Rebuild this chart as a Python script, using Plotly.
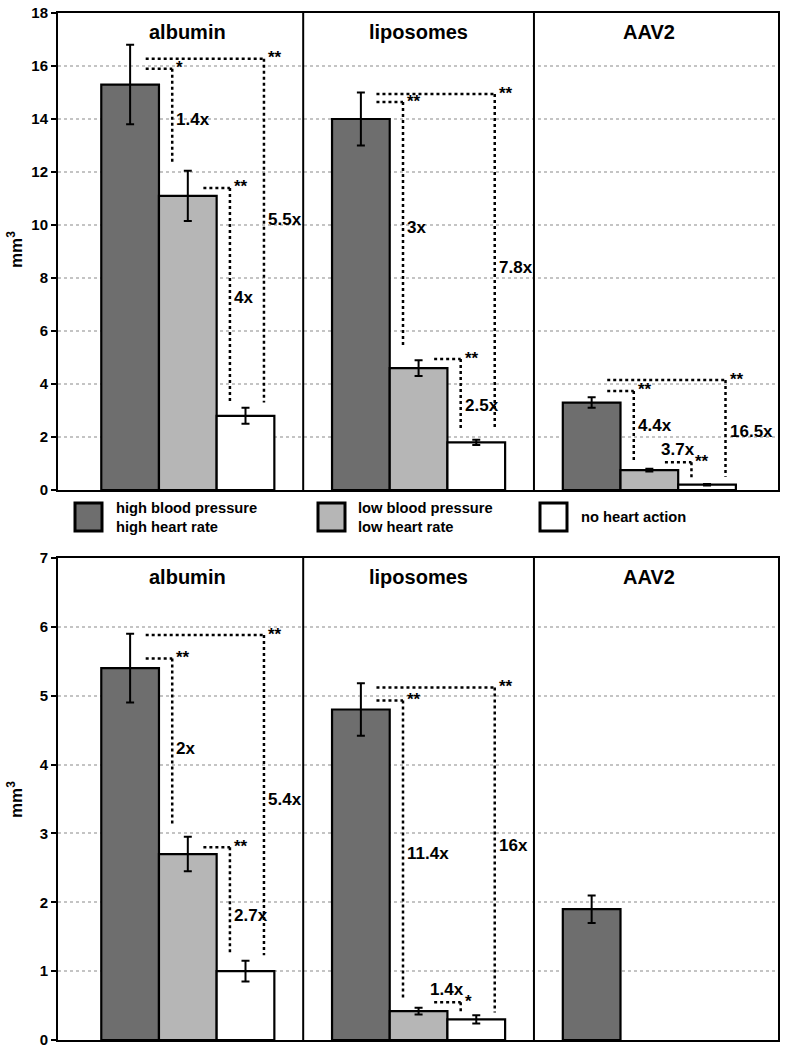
import plotly.graph_objects as go

# ---------------- data ----------------
panels = ["albumin", "liposomes", "AAV2"]
series_names = ["high blood pressure<br>high heart rate",
                "low blood pressure<br>low heart rate",
                "no heart action"]

top_high = [15.3, 14.0, 3.3]
top_high_err = [1.5, 1.0, 0.2]
top_low = [11.1, 4.6, 0.75]
top_low_err = [0.95, 0.3, 0.05]
top_none = [2.8, 1.8, 0.2]
top_none_err = [0.3, 0.1, 0.03]

bottom_high = [5.4, 4.8, 1.9]
bottom_high_err = [0.5, 0.38, 0.2]
bottom_low = [2.7, 0.42, None]
bottom_low_err = [0.25, 0.05, None]
bottom_none = [1.0, 0.3, None]
bottom_none_err = [0.15, 0.06, None]

top_ticks = [0, 2, 4, 6, 8, 10, 12, 14, 16, 18]
bottom_ticks = [0, 1, 2, 3, 4, 5, 6, 7]

# comparison brackets: (panel, from series, to series, bracket level, end level, stars, ratio, ratio level, ratio placement)
top_brackets = [
    (0, 0, 1, 15.9, 12.3, "*", "1.4x", 14.0, "right"),
    (0, 0, 2, 16.27, 3.3, "**", "5.5x", 10.2, "right"),
    (0, 1, 2, 11.4, 3.3, "**", "4x", 7.25, "right"),
    (1, 0, 1, 14.64, 5.36, "**", "3x", 9.9, "right"),
    (1, 0, 2, 14.94, 2.26, "**", "7.8x", 8.4, "right"),
    (1, 1, 2, 4.94, 2.26, "**", "2.5x", 3.2, "right"),
    (2, 0, 1, 3.74, 1.05, "**", "4.4x", 2.45, "right"),
    (2, 0, 2, 4.15, 0.5, "**", "16.5x", 2.2, "right"),
    (2, 1, 2, 1.05, 0.45, "**", "3.7x", 1.05, "above"),
]
bottom_brackets = [
    (0, 0, 1, 5.54, 3.12, "**", "2x", 4.24, "right"),
    (0, 0, 2, 5.88, 1.23, "**", "5.4x", 3.5, "right"),
    (0, 1, 2, 2.8, 1.23, "**", "2.7x", 1.81, "right"),
    (1, 0, 1, 4.93, 0.58, "**", "11.4x", 2.71, "right"),
    (1, 0, 2, 5.12, 0.4, "**", "16x", 2.83, "right"),
    (1, 1, 2, 0.55, 0.4, "*", "1.4x", 0.55, "above"),
]

# ---------------- style / layout ----------------
colors = ["#6e6e6e", "#b6b6b6", "#ffffff"]
FONT = "Liberation Sans, Arial, Helvetica, sans-serif"
W, H = 785, 1050
ML, MR, MT, MB = 58, 7, 13, 10
PW, PH = W - ML - MR, H - MT - MB
XMAX = 12.48


def center(g, s):
    return 1.25 + 4 * g + s


def py2paper(py):
    return (H - MB - py) / PH


def px2paper(px):
    return (px - ML) / PW


fig = go.Figure()

top_sets = [(top_high, top_high_err), (top_low, top_low_err), (top_none, top_none_err)]
bot_sets = [(bottom_high, bottom_high_err), (bottom_low, bottom_low_err), (bottom_none, bottom_none_err)]

for sets, xa, ya in [(top_sets, "x", "y"), (bot_sets, "x2", "y2")]:
    for s, (vals, errs) in enumerate(sets):
        xs, ys, es = [], [], []
        for g, v in enumerate(vals):
            if v is None:
                continue
            xs.append(center(g, s))
            ys.append(v)
            es.append(errs[g])
        fig.add_trace(go.Bar(
            x=xs, y=ys, width=1.0, xaxis=xa, yaxis=ya,
            name=series_names[s], showlegend=False,
            marker=dict(color=colors[s], line=dict(color="black", width=2.2)),
            error_y=dict(type="data", array=es, color="black", thickness=2, width=4),
        ))

shapes = []
annotations = []


def add_brackets(brackets, xref, yref):
    for (g, i, j, ytop, ybot, stars, ratio, ylab, mode) in brackets:
        x0 = center(g, i) + 0.27
        if j == i + 1:
            x1 = center(g, j) - 0.27
        else:
            x1 = center(g, j) + 0.32
        line = dict(color="black", width=2.5, dash="dot")
        shapes.append(dict(type="line", xref=xref, yref=yref, x0=x0, x1=x1, y0=ytop, y1=ytop, line=line))
        shapes.append(dict(type="line", xref=xref, yref=yref, x0=x1, x1=x1, y0=ytop, y1=ybot, line=line))
        annotations.append(dict(xref=xref, yref=yref, x=x1, y=ytop, text=stars, showarrow=False,
                                xanchor="left", yanchor="middle", xshift=2, yshift=1,
                                font=dict(family=FONT, size=17, color="black", weight="bold")))
        if mode == "right":
            annotations.append(dict(xref=xref, yref=yref, x=x1, y=ylab, text=ratio, showarrow=False,
                                    xanchor="left", yanchor="middle", xshift=2,
                                    font=dict(family=FONT, size=17, color="black", weight="bold")))
        else:
            annotations.append(dict(xref=xref, yref=yref, x=(x0 + x1) / 2, y=ylab, text=ratio,
                                    showarrow=False, xanchor="center", yanchor="bottom", yshift=1,
                                    font=dict(family=FONT, size=17, color="black", weight="bold")))


add_brackets(top_brackets, "x", "y")
add_brackets(bottom_brackets, "x2", "y2")

# panel dividers and titles
for xref, yref in [("x", "y"), ("x2", "y2")]:
    for g in range(1, len(panels)):
        xd = 4 * g + 0.25
        shapes.append(dict(type="line", xref=xref, yref=yref + " domain", x0=xd, x1=xd, y0=0, y1=1,
                           line=dict(color="black", width=2)))
    for g, name in enumerate(panels):
        annotations.append(dict(xref=xref, yref=yref + " domain", x=center(g, 1), y=1, yshift=-19,
                                text=name, showarrow=False, xanchor="center", yanchor="middle",
                                font=dict(family=FONT, size=20, color="black", weight="bold")))

# y titles
for ycen in [250, 800]:
    annotations.append(dict(xref="paper", yref="paper", x=px2paper(15), y=py2paper(ycen),
                            text="mm<sup>3</sup>", textangle=-90, showarrow=False,
                            xanchor="center", yanchor="middle",
                            font=dict(family=FONT, size=17, color="black", weight="bold")))

# legend
leg_sq = [75, 318, 540]
leg_tx = [114, 356, 579]
for k in range(3):
    shapes.append(dict(type="rect", xref="paper", yref="paper",
                       x0=px2paper(leg_sq[k]), x1=px2paper(leg_sq[k] + 27),
                       y0=py2paper(531), y1=py2paper(503),
                       fillcolor=colors[k], line=dict(color="black", width=3)))
    annotations.append(dict(xref="paper", yref="paper", x=px2paper(leg_tx[k]), y=py2paper(517),
                            text=series_names[k], showarrow=False, xanchor="left", yanchor="middle",
                            align="left",
                            font=dict(family=FONT, size=14.7, color="black", weight="bold")))

axis_common = dict(showline=True, mirror=True, linecolor="black", linewidth=2)

fig.update_layout(
    width=W, height=H,
    margin=dict(l=ML, r=MR, t=MT, b=MB),
    paper_bgcolor="white", plot_bgcolor="white",
    barmode="overlay",
    showlegend=False,
    shapes=shapes,
    annotations=annotations,
    xaxis=dict(domain=[0, 1], range=[0, XMAX], anchor="y", showticklabels=False, ticks="",
               showgrid=False, zeroline=False, fixedrange=True, **axis_common),
    xaxis2=dict(domain=[0, 1], range=[0, XMAX], anchor="y2", showticklabels=False, ticks="",
                showgrid=False, zeroline=False, fixedrange=True, **axis_common),
    yaxis=dict(domain=[550 / PH, 1.0], range=[0, 18], anchor="x", tickvals=top_ticks,
               ticks="outside", ticklen=5, tickwidth=2, tickcolor="black",
               tickfont=dict(family=FONT, size=15, color="black", weight="bold"),
               showgrid=True, gridcolor="#c4c4c4", gridwidth=1.5, griddash="dot",
               zeroline=False, automargin=False, **axis_common),
    yaxis2=dict(domain=[0, 482 / PH], range=[0, 7], anchor="x2", tickvals=bottom_ticks,
                ticks="outside", ticklen=5, tickwidth=2, tickcolor="black",
                tickfont=dict(family=FONT, size=15, color="black", weight="bold"),
                showgrid=True, gridcolor="#c4c4c4", gridwidth=1.5, griddash="dot",
                zeroline=False, automargin=False, **axis_common),
)

fig.write_html("out.html",
               config={"displayModeBar": False},
               post_script="document.body.style.margin='0px';document.body.style.overflow='hidden';")
